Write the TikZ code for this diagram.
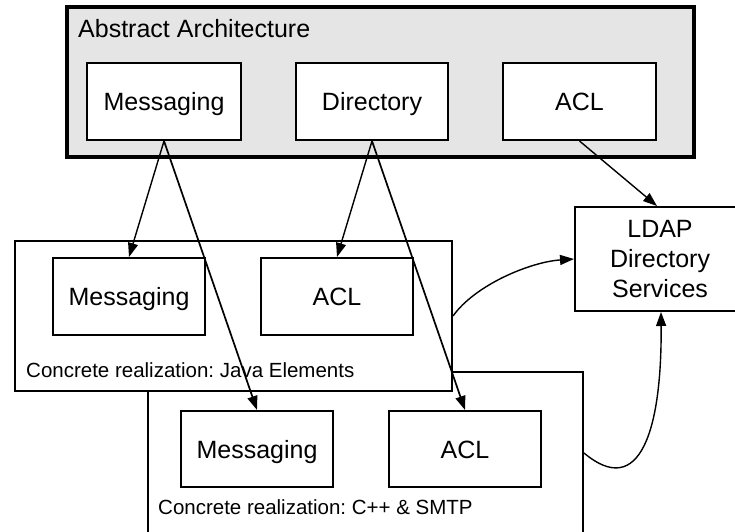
\documentclass[tikz,border=0pt]{standalone}
\usepackage{fontspec}
\setmainfont{Liberation Sans}
\usetikzlibrary{arrows.meta}
\frenchspacing

\tikzset{
  bigfont/.style={font=\fontsize{25}{30}\selectfont},
  smallfont/.style={font=\fontsize{20.5}{24}\selectfont},
  part/.style={draw, line width=2pt, fill=white, bigfont,
    inner sep=0pt, text height=18pt, text depth=0pt},
  frame/.style={draw, line width=2pt, fill=white, inner sep=0pt},
  link/.style={line width=1.4pt, -{Triangle[length=14pt,width=10pt]}},
}

\begin{document}
\begin{tikzpicture}[x=1pt,y=-1pt]
\useasboundingbox (0,0) rectangle (735,531);

% abstract layer
\node[draw, line width=4.5pt, fill=black!10, inner sep=0pt,
      minimum width=627pt, minimum height=150pt] (abs) at (380.5,82) {};
\node[bigfont, anchor=base west, inner sep=0pt] (abslabel) at (78,37) {Abstract Architecture};
\node[part, minimum width=154pt, minimum height=77pt] (amsg) at (164,101.5) {Messaging};
\node[part, minimum width=152pt, minimum height=77pt] (adir) at (372,101.5) {Directory};
\node[part, minimum width=153pt, minimum height=77pt] (aacl) at (579.5,101.5) {ACL};

% C++ / SMTP realization (lies behind the Java one)
\node[frame, minimum width=435pt, minimum height=162pt] (cpp) at (365.5,453) {};
\node[smallfont, anchor=base west, inner sep=0pt] (cpplabel) at (158,514) {Concrete realization: C++ \& SMTP};
\node[part, minimum width=152pt, minimum height=76pt] (cmsg) at (257,449) {Messaging};
\node[part, minimum width=152pt, minimum height=76pt] (cacl) at (465,449) {ACL};

% Java realization
\node[frame, minimum width=437pt, minimum height=150pt] (java) at (233.5,316) {};
\node[smallfont, anchor=base west, inner sep=0pt] (javalabel) at (26,377) {Concrete realization: Java Elements};
\node[part, minimum width=152pt, minimum height=77pt] (jmsg) at (129,296.5) {Messaging};
\node[part, minimum width=152pt, minimum height=77pt] (jacl) at (337,296.5) {ACL};

% directory service
\node[draw, line width=2pt, fill=white, inner sep=0pt, bigfont, align=center,
      minimum width=170pt, minimum height=104pt] (ldap) at (660,259)
      {LDAP\\Directory\\Services};

% realizations of the abstract elements
\draw[link] (amsg.south) -- (jmsg.north);
\draw[link, line width=1.7pt] (amsg.south) -- (cmsg.north);
\draw[link] (adir.south) -- (jacl.north);
\draw[link, line width=1.7pt] (adir.south) -- (cacl.north);
\draw[link] (aacl.south) -- ([xshift=-3pt]ldap.north);

% uses of the directory service
\draw[link] (java.east) .. controls (475,285) and (530,262) .. (ldap.west);
\draw[link] (cpp.east) .. controls (640,500) and (662,430) .. ([xshift=1pt]ldap.south);
\end{tikzpicture}
\end{document}
